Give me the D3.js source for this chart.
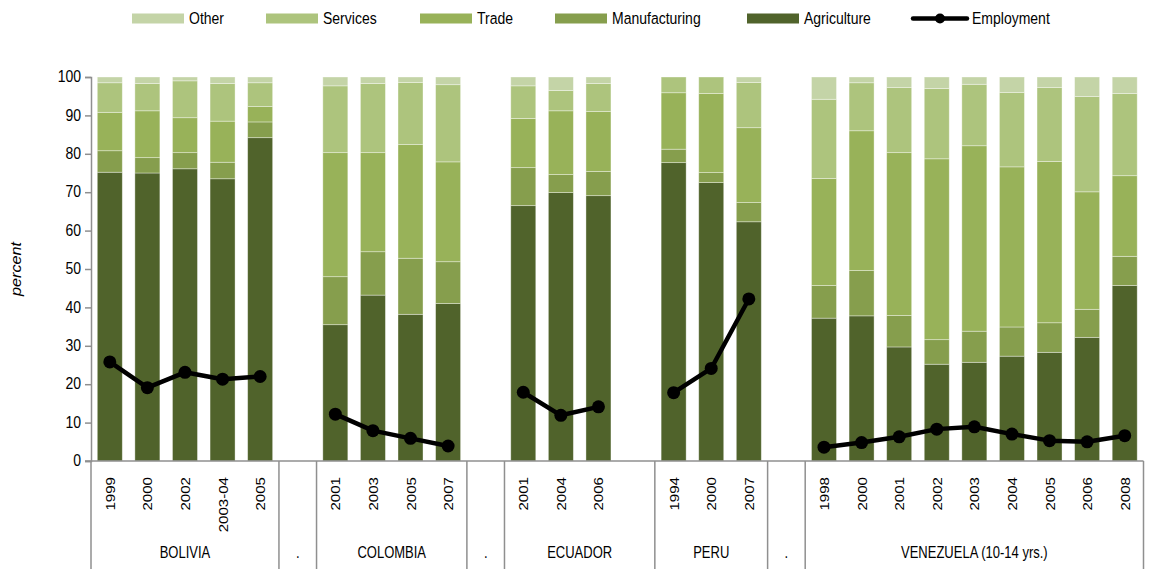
<!DOCTYPE html>
<html>
<head>
<meta charset="utf-8">
<script src="https://cdn.jsdelivr.net/npm/d3@7"></script>
<style>
  body { margin: 0; background: #fff; }
  svg { display: block; }
  text { font-family: "Liberation Sans", Arial, sans-serif; fill: #000; }
</style>
</head>
<body>
<svg id="chart" width="1149" height="569"></svg>
<script>
// country groups and the years shown under each ("" = empty slot)
var groups = ["BOLIVIA", ".", "COLOMBIA", ".", "ECUADOR", "PERU", ".", "VENEZUELA (10-14 yrs.)"];
var groupYears = [
  ["1999", "2000", "2002", "2003-04", "2005"],
  [""],
  ["2001", "2003", "2005", "2007"],
  [""],
  ["2001", "2004", "2006", ""],
  ["1994", "2000", "2007"],
  [""],
  ["1998", "2000", "2001", "2002", "2003", "2004", "2005", "2006", "2008"]
];

// sector shares, percent (one value per slot, null = empty slot)
var agriculture   = [75.2, 75.0, 76.1, 73.5, 84.2, null, 35.5, 43.2, 38.2, 41.0, null, 66.5, 69.9, 69.1, null, 77.7, 72.5, 62.3, null, 37.2, 37.8, 29.7, 25.2, 25.7, 27.3, 28.3, 32.2, 45.7];
var manufacturing = [5.6, 4.0, 4.2, 4.3, 4.1, null, 12.5, 11.3, 14.6, 10.9, null, 9.9, 4.7, 6.3, null, 3.5, 2.6, 5.0, null, 8.5, 11.8, 8.2, 6.4, 8.1, 7.6, 7.7, 7.3, 7.6];
var trade         = [10.0, 12.2, 9.1, 10.7, 4.0, null, 32.3, 25.8, 29.6, 26.0, null, 12.8, 16.6, 15.6, null, 14.7, 20.6, 19.5, null, 27.9, 36.4, 42.4, 47.1, 48.3, 41.7, 42.0, 30.6, 21.0];
var services      = [7.7, 7.1, 9.6, 9.8, 6.2, null, 17.4, 18.0, 16.2, 20.1, null, 8.5, 5.3, 7.3, null, 4.1, 4.3, 11.8, null, 20.6, 12.5, 17.0, 18.3, 16.0, 19.4, 19.3, 24.8, 21.4];
var other         = [1.5, 1.7, 1.0, 1.7, 1.5, null, 2.3, 1.7, 1.4, 2.0, null, 2.3, 3.5, 1.7, null, 0, 0, 1.4, null, 5.8, 1.5, 2.7, 3.0, 1.9, 4.0, 2.7, 5.1, 4.3];
// employment rate, percent
var employment    = [25.8, 19.1, 23.1, 21.3, 22.0, null, 12.2, 7.9, 5.9, 3.9, null, 17.9, 11.9, 14.1, null, 17.8, 24.1, 42.2, null, 3.6, 4.8, 6.3, 8.3, 8.9, 7.0, 5.3, 5.0, 6.6];

var yTicks = [0, 10, 20, 30, 40, 50, 60, 70, 80, 90, 100];

var seriesNames = ["Agriculture", "Manufacturing", "Trade", "Services", "Other"];
var seriesColors = {
  "Other": "#c4d4a7",
  "Services": "#adc47d",
  "Trade": "#98b259",
  "Manufacturing": "#869e4d",
  "Agriculture": "#50632b"
};

// flatten categories
var rows = [];
groups.forEach(function(g, gi) {
  groupYears[gi].forEach(function(y, yi) {
    rows.push({ key: gi + "|" + yi, group: gi, year: y });
  });
});
rows.forEach(function(r, i) {
  r.Agriculture = agriculture[i];
  r.Manufacturing = manufacturing[i];
  r.Trade = trade[i];
  r.Services = services[i];
  r.Other = other[i];
  r.employment = employment[i];
});

var svg = d3.select("#chart");
var plotLeft = 91, plotRight = 1143.5, plotTop = 77, plotBottom = 461;
var stretch = "scale(1,1.22)";      // source text is drawn tall and narrow
var stretchRot = "scale(1.16,1)";   // same, for text turned on its side

var pad = 0.335;
var x = d3.scaleBand().domain(rows.map(function(d) { return d.key; }))
  .range([plotLeft, plotRight]).paddingInner(pad).paddingOuter(pad / 2);
var y = d3.scaleLinear().domain([0, 100]).range([plotBottom, plotTop]);

var axisColor = "#8f8f8f";

// stacked bars
var barRows = rows.filter(function(d) { return d.Agriculture != null; });
var stack = d3.stack().keys(seriesNames);
var layers = stack(barRows);

svg.append("g").selectAll("g").data(layers).join("g")
  .attr("fill", function(d) { return seriesColors[d.key]; })
  .selectAll("rect").data(function(d) { return d; }).join("rect")
  .attr("x", function(d) { return x(d.data.key); })
  .attr("width", x.bandwidth())
  .attr("y", function(d) { return y(d[1]); })
  .attr("height", function(d) { return Math.max(0, y(d[0]) - y(d[1])); })
  .attr("stroke", "rgba(255,255,255,0.45)")
  .attr("stroke-width", 0.8);

// y axis
var yAxis = d3.axisLeft(y).tickValues(yTicks).tickSize(6).tickPadding(5);
var ya = svg.append("g").attr("transform", "translate(" + plotLeft + ",0)").call(yAxis);
ya.select(".domain").attr("stroke", axisColor).attr("stroke-width", 1.5);
ya.selectAll(".tick line").attr("stroke", axisColor).attr("stroke-width", 1.5);
ya.selectAll(".tick text")
  .style("font-size", "14px").style("font-family", null).attr("fill", "#000")
  .attr("x", -10).attr("dy", "0.28em")
  .attr("transform", stretch);

svg.append("text")
  .attr("transform", "translate(21," + y(50) + ") rotate(-90) " + stretchRot)
  .attr("text-anchor", "middle")
  .style("font-size", "14px")
  .style("font-style", "italic")
  .text("percent");

// baseline
svg.append("line")
  .attr("x1", plotLeft - 6).attr("x2", plotRight)
  .attr("y1", plotBottom).attr("y2", plotBottom)
  .attr("stroke", axisColor).attr("stroke-width", 1.5);

// year labels
svg.append("g").selectAll("text").data(rows.filter(function(d) { return d.year; })).join("text")
  .attr("transform", function(d) {
    return "translate(" + (x(d.key) + x.bandwidth() / 2 + 5) + "," + (plotBottom + 16) + ") rotate(-90) " + stretchRot;
  })
  .attr("text-anchor", "end")
  .style("font-size", "13px")
  .text(function(d) { return d.year; });

// group separators and labels
var step = x.step();
var bounds = [];
groups.forEach(function(g, gi) {
  var keys = rows.filter(function(r) { return r.group === gi; });
  var x0 = x(keys[0].key) - step * pad / 2;
  var x1 = x(keys[keys.length - 1].key) + x.bandwidth() + step * pad / 2;
  bounds.push({ name: g, x0: x0, x1: x1 });
});
var sepX = [bounds[0].x0].concat(bounds.map(function(b) { return b.x1; }));
svg.append("g").selectAll("line").data(sepX).join("line")
  .attr("x1", function(d) { return d; }).attr("x2", function(d) { return d; })
  .attr("y1", plotBottom).attr("y2", 569)
  .attr("stroke", axisColor).attr("stroke-width", 1.5);

svg.append("g").selectAll("text").data(bounds).join("text")
  .attr("transform", function(d) { return "translate(" + ((d.x0 + d.x1) / 2) + ",558) " + stretch; })
  .attr("text-anchor", "middle")
  .style("font-size", "13px")
  .text(function(d) { return d.name; });

// employment line
var line = d3.line()
  .defined(function(d) { return d.employment != null; })
  .x(function(d) { return x(d.key) + x.bandwidth() / 2; })
  .y(function(d) { return y(d.employment); });

svg.append("path").datum(rows)
  .attr("fill", "none").attr("stroke", "#000").attr("stroke-width", 4.5)
  .attr("stroke-linejoin", "round")
  .attr("d", line);

svg.append("g").selectAll("circle").data(rows.filter(function(d) { return d.employment != null; })).join("circle")
  .attr("cx", function(d) { return x(d.key) + x.bandwidth() / 2; })
  .attr("cy", function(d) { return y(d.employment); })
  .attr("r", 6.5)
  .attr("fill", "#000");

// legend
var legendItems = [
  { name: "Other", x: 132 },
  { name: "Services", x: 266 },
  { name: "Trade", x: 420 },
  { name: "Manufacturing", x: 555 },
  { name: "Agriculture", x: 747 }
];
var lg = svg.append("g");
legendItems.forEach(function(d) {
  lg.append("rect").attr("x", d.x).attr("y", 13.5).attr("width", 52).attr("height", 10)
    .attr("fill", seriesColors[d.name]);
  lg.append("text").attr("transform", "translate(" + (d.x + 57) + ",23.5) " + stretch)
    .style("font-size", "14px").text(d.name);
});
lg.append("line").attr("x1", 913).attr("x2", 967).attr("y1", 18.5).attr("y2", 18.5)
  .attr("stroke", "#000").attr("stroke-width", 4.5).attr("stroke-linecap", "round");
lg.append("circle").attr("cx", 940).attr("cy", 18.5).attr("r", 5).attr("fill", "#000");
lg.append("text").attr("transform", "translate(972,23.5) " + stretch)
  .style("font-size", "14px").text("Employment");
</script>
</body>
</html>
